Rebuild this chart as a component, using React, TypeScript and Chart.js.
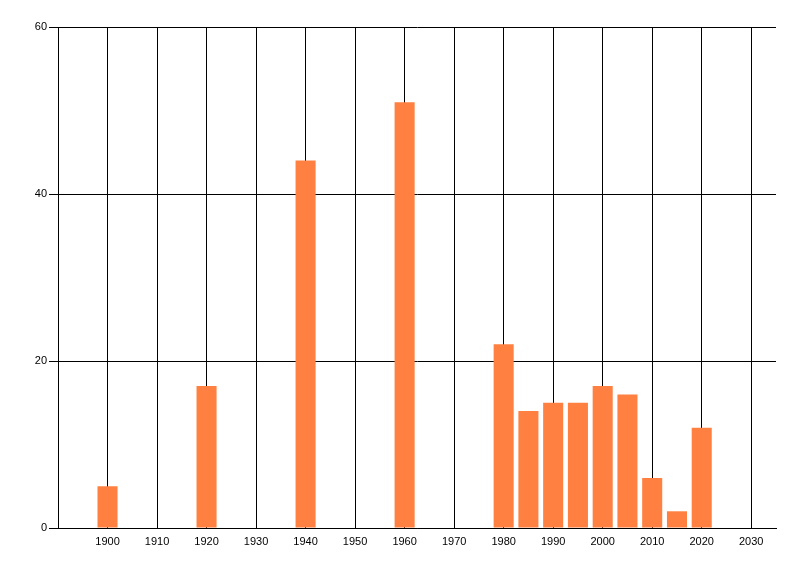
import React, { useEffect, useRef } from "react";
import { Chart, registerables } from "chart.js";

Chart.register(...registerables);

const years = [1900, 1920, 1940, 1960, 1980, 1985, 1990, 1995, 2000, 2005, 2010, 2015, 2020];
const values = [5, 17, 44, 51, 22, 14, 15, 15, 17, 16, 6, 2, 12];
const xTicks = [1900, 1910, 1920, 1930, 1940, 1950, 1960, 1970, 1980, 1990, 2000, 2010, 2020, 2030];
const yTicks = [0, 20, 40, 60];

export default function App() {
  const ref = useRef<HTMLCanvasElement | null>(null);

  useEffect(() => {
    if (!ref.current) return;
    const font = { family: "'Liberation Sans', Arial, sans-serif", size: 11 };
    const chart = new Chart(ref.current, {
      type: "bar",
      data: {
        datasets: [
          {
            data: years.map((y, i) => ({ x: y, y: values[i] })),
            backgroundColor: "#FF8040",
            borderWidth: 0,
            barPercentage: 0.81,
            categoryPercentage: 1,
          },
        ],
      },
      options: {
        animation: false,
        responsive: false,
        maintainAspectRatio: false,
        layout: { padding: { top: 27, right: 24, bottom: 0, left: 0 } },
        plugins: { legend: { display: false }, tooltip: { enabled: false } },
        scales: {
          x: {
            type: "linear",
            min: 1890,
            max: 2035,
            offset: false,
            afterBuildTicks: (axis: any) => {
              axis.ticks = xTicks.map((v) => ({ value: v }));
            },
            afterFit: (axis: any) => {
              axis.height = 48;
            },
            grid: { color: "#000", lineWidth: 1, drawTicks: false, offset: false },
            border: { color: "#000", width: 1 },
            ticks: {
              color: "#000",
              font,
              padding: 7,
              maxRotation: 0,
              autoSkip: false,
              callback: (v: any) => String(v),
            },
          },
          y: {
            min: 0,
            max: 60,
            afterBuildTicks: (axis: any) => {
              axis.ticks = yTicks.map((v) => ({ value: v }));
            },
            afterFit: (axis: any) => {
              axis.width = 58;
            },
            grid: { color: "#000", lineWidth: 1, drawTicks: true, tickLength: 9 },
            border: { color: "#000", width: 1 },
            ticks: { color: "#000", font, padding: 2, callback: (v: any) => String(v) },
          },
        },
      },
    });
    return () => chart.destroy();
  }, []);

  return (
    <div style={{ position: "fixed", left: 0, top: 0, width: 800, height: 576, background: "#fff" }}>
      <canvas ref={ref} width={800} height={576} style={{ width: 800, height: 576, display: "block" }} />
    </div>
  );
}
